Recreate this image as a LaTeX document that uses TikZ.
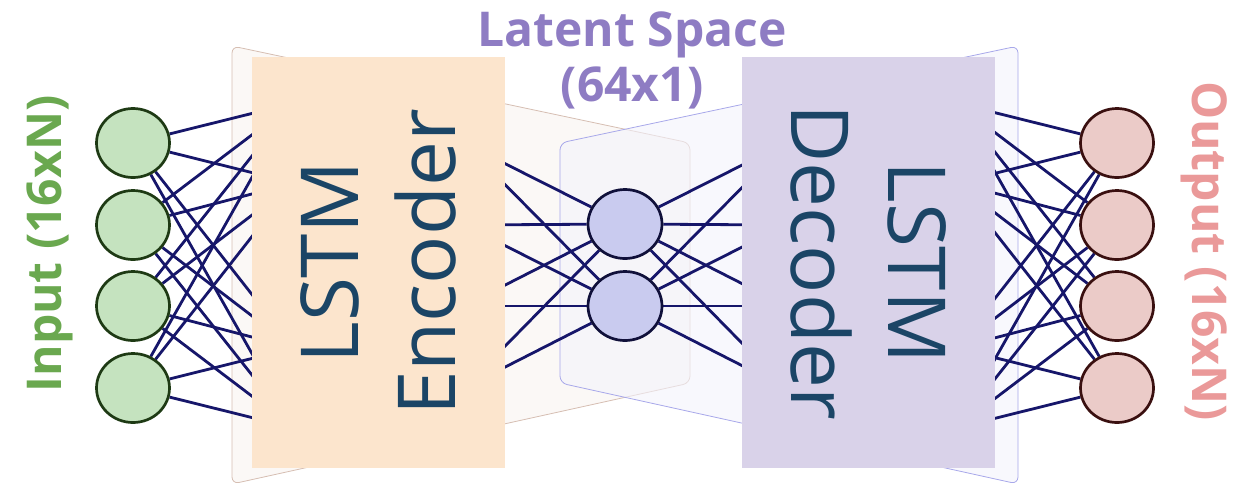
\documentclass[tikz,border=0pt]{standalone}
\usepackage{fontspec}
\setmainfont{Open Sans}
\usetikzlibrary{shapes.geometric}
\definecolor{conncol}{HTML}{16166A}
\definecolor{encfill}{HTML}{FCE5CD}
\definecolor{decfill}{HTML}{D9D2E9}
\definecolor{lstmtext}{HTML}{1B4566}
\definecolor{infill}{HTML}{C5E3BF}
\definecolor{indraw}{HTML}{1E3A14}
\definecolor{outfill}{HTML}{EBCBC8}
\definecolor{outdraw}{HTML}{3A1010}
\definecolor{latfill}{HTML}{C9CBEF}
\definecolor{latdraw}{HTML}{10103A}
\definecolor{enctrapdraw}{HTML}{D6BEB2}
\definecolor{enctrapfill}{HTML}{F8F3F0}
\definecolor{dectrapdraw}{HTML}{A8A8EA}
\definecolor{dectrapfill}{HTML}{F3F3FC}
\definecolor{latcol}{HTML}{8E7CC3}
\definecolor{incol}{HTML}{6AA84F}
\definecolor{outcol}{HTML}{EA9999}
\pgfdeclarelayer{back}
\pgfdeclarelayer{mid}
\pgfsetlayers{back,mid,main}
\begin{document}
\begin{tikzpicture}[x=1pt,y=-1pt,
  conn/.style={draw=conncol,line width=2.8pt},
  neuron/.style={ellipse,line width=2.7pt,minimum width=73pt,minimum height=69pt,inner sep=0pt},
  incirc/.style={neuron,fill=infill,draw=indraw},
  outcirc/.style={neuron,fill=outfill,draw=outdraw},
  latcirc/.style={neuron,fill=latfill,draw=latdraw,minimum width=74pt},
  lstmbox/.style={rectangle,inner sep=0pt,minimum width=411pt,minimum height=253pt,
    text=lstmtext,align=center,font=\fontsize{80}{97}\selectfont},
  trap/.style={line width=0.8pt,rounded corners=7pt,fill opacity=0.6},
  lbl/.style={font=\fontsize{48}{58}\selectfont\bfseries,inner sep=0pt}]
\useasboundingbox (0,0) rectangle (1241,483);
% background trapezoids
\begin{pgfonlayer}{back}
\draw[trap,draw=enctrapdraw,fill=enctrapfill] (232,46) -- (690,143) -- (690,383) -- (232,484) -- cycle;
\draw[trap,draw=dectrapdraw,fill=dectrapfill] (1018,46) -- (560,143) -- (560,383) -- (1018,484) -- cycle;
\end{pgfonlayer}
% neurons
\foreach \i/\y in {1/143,2/225,3/306,4/388}{
  \node[incirc] (in\i) at (133,\y) {};
  \node[outcirc] (out\i) at (1117,\y) {};
  \coordinate (er\i) at (464,\y);
  \coordinate (dl\i) at (786,\y);
}
\foreach \i/\y in {1/103,2/183,3/348,4/428}{
  \coordinate (el\i) at (294,\y);
  \coordinate (dr\i) at (956,\y);
}
\node[latcirc] (lat1) at (625,224) {};
\node[latcirc] (lat2) at (625,306) {};
% connections
\begin{pgfonlayer}{mid}
\foreach \i in {1,...,4}{
  \foreach \j in {1,...,4}{
    \draw[conn] (in\i) -- (el\j);
    \draw[conn] (out\i) -- (dr\j);
  }
}
\foreach \k in {1,2}{
  \foreach \j in {1,...,4}{
    \draw[conn] (lat\k) -- (er\j);
    \draw[conn] (lat\k) -- (dl\j);
  }
}
\end{pgfonlayer}
% LSTM boxes
\node[lstmbox,fill=encfill,rotate=90] (enc) at (378.5,262.5) {LSTM\\Encoder};
\node[lstmbox,fill=decfill,rotate=-90] (dec) at (868.5,262.5) {LSTM\\Decoder};
% labels
\node[lbl,text=latcol,anchor=base] (latA) at (632,46) {Latent Space};
\node[lbl,text=latcol,anchor=base] (latB) at (632,101) {(64x1)};
\node[lbl,text=incol,rotate=90,anchor=base] (inlbl) at (61,244) {Input (16xN)};
\node[lbl,text=outcol,rotate=-90,anchor=base] (outlbl) at (1192,251) {Output (16xN)};
\end{tikzpicture}
\end{document}
